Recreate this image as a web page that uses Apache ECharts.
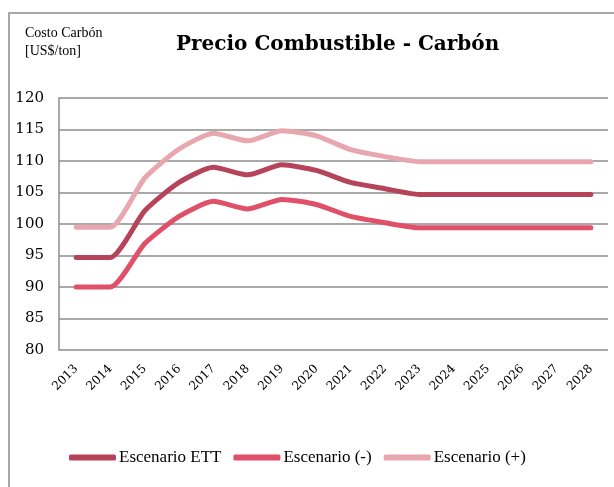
<!DOCTYPE html>
<html>
<head>
<meta charset="utf-8">
<script src="https://cdn.jsdelivr.net/npm/echarts@6/dist/echarts.min.js"></script>
<style>
  html, body { margin: 0; padding: 0; background: #fff; }
  #main { width: 614px; height: 487px; }
</style>
</head>
<body>
<div id="main"></div>
<script>
const years = ['2013', '2014', '2015', '2016', '2017', '2018', '2019', '2020',
  '2021', '2022', '2023', '2024', '2025', '2026', '2027', '2028']
const escenarioEtt = [94.7, 94.7, 102.1, 106.6, 109.0, 107.8, 109.4, 108.5,
  106.6, 105.6, 104.7, 104.7, 104.7, 104.7, 104.7, 104.7]
const escenarioMenos = [90.0, 90.0, 96.9, 101.2, 103.6, 102.4, 103.9, 103.1,
  101.2, 100.2, 99.4, 99.4, 99.4, 99.4, 99.4, 99.4]
const escenarioMas = [99.5, 99.5, 107.3, 111.9, 114.4, 113.2, 114.8, 114.0,
  111.8, 110.7, 109.9, 109.9, 109.9, 109.9, 109.9, 109.9]

const serif = 'Liberation Serif'
const wide = 'DejaVu Serif'
const chart = echarts.init(document.getElementById('main'))

function lineSeries(name, data, color) {
  return {
    name: name,
    type: 'line',
    data: data,
    smooth: 0.2,
    symbol: 'none',
    lineStyle: { width: 5, color: color, cap: 'round' },
    itemStyle: { color: color }
  }
}

const option = {
  animation: false,
  graphic: [
    {
      type: 'rect',
      shape: { x: 9, y: 13, width: 620, height: 500 },
      style: { fill: 'none', stroke: '#8c8c8c', lineWidth: 1.5 }
    },
    {
      type: 'text',
      left: 25, top: 24,
      style: { text: 'Costo Carbón\n[US$/ton]', font: '14px "Liberation Serif"', fill: '#000', lineHeight: 18 }
    }
  ],
  title: {
    text: 'Precio Combustible - Carbón',
    left: 171, top: 30,
    textStyle: { fontFamily: wide, fontSize: 20, fontWeight: 'bold', color: '#000' }
  },
  legend: {
    top: 444,
    left: 64,
    icon: 'roundRect',
    itemWidth: 47,
    itemHeight: 6,
    itemGap: 12,
    textStyle: { fontFamily: serif, fontSize: 17, color: '#000', padding: [0, 0, 0, -2] },
    data: ['Escenario ETT', 'Escenario (-)', 'Escenario (+)']
  },
  grid: { left: 59, right: 6, top: 98, bottom: 137 },
  xAxis: {
    type: 'category',
    data: years,
    axisLine: { show: false },
    axisTick: { show: false },
    axisLabel: { rotate: 45, fontFamily: wide, fontSize: 12, color: '#000', margin: 17 }
  },
  yAxis: {
    type: 'value',
    min: 80, max: 120, interval: 5,
    axisLine: { show: true, lineStyle: { color: '#8c8c8c', width: 1.5 } },
    axisTick: { show: false },
    axisLabel: { fontFamily: wide, fontSize: 15, color: '#000', margin: 15 },
    splitLine: { lineStyle: { color: '#8c8c8c', width: 1.5 } }
  },
  series: [
    lineSeries('Escenario ETT', escenarioEtt, '#b5435a'),
    lineSeries('Escenario (-)', escenarioMenos, '#e05068'),
    lineSeries('Escenario (+)', escenarioMas, '#e8a6ae')
  ]
}

chart.setOption(option)
</script>
</body>
</html>
